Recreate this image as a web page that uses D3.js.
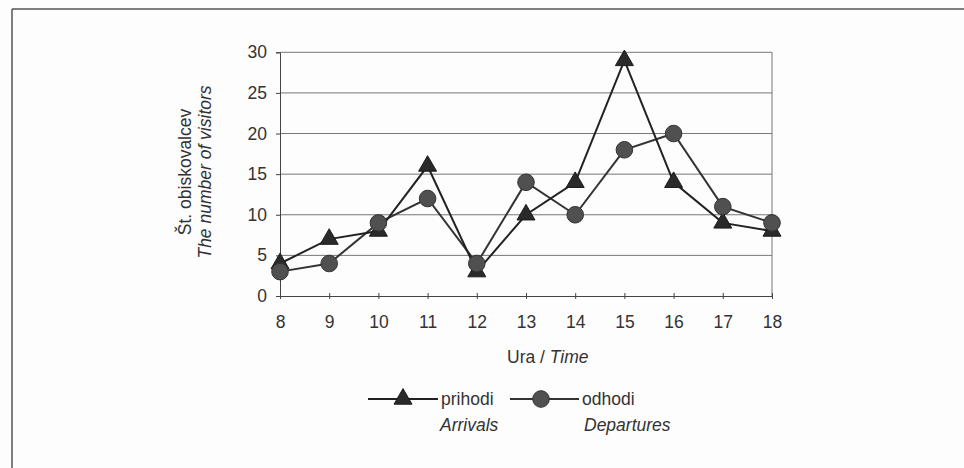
<!DOCTYPE html>
<html><head><meta charset="utf-8">
<script src="https://cdn.jsdelivr.net/npm/d3@7"></script>
<style>
html,body{margin:0;padding:0;background:#fdfdfd;}
svg{display:block;font-family:Arial,"Liberation Sans",sans-serif;}
</style></head>
<body>
<script>
const hours = [8, 9, 10, 11, 12, 13, 14, 15, 16, 17, 18];
const arrivals = [4, 7, 8, 16, 3, 10, 14, 29, 14, 9, 8];
const departures = [3, 4, 9, 12, 4, 14, 10, 18, 20, 11, 9];
const yTicks = [0, 5, 10, 15, 20, 25, 30];

const W = 964, H = 468, FS = 17.5;
const svg = d3.select("body").append("svg").attr("width", W).attr("height", H);
svg.append("rect").attr("width", W).attr("height", H).attr("fill", "#fdfdfd");

// outer frame (top and left only visible)
svg.append("line").attr("x1", 12).attr("x2", W).attr("y1", 9).attr("y2", 9).attr("stroke", "#555").attr("stroke-width", 1.5);
svg.append("line").attr("x1", 12).attr("x2", 12).attr("y1", 9).attr("y2", H).attr("stroke", "#555").attr("stroke-width", 1.5);

const x = d3.scalePoint().domain(hours).range([280, 772]);
const y = d3.scaleLinear().domain([0, 30]).range([296, 52.3]);

// gridlines
svg.append("g").selectAll("line").data(yTicks.filter(d => d > 0)).join("line")
  .attr("x1", 280).attr("x2", 772).attr("y1", d => y(d)).attr("y2", d => y(d))
  .attr("stroke", "#777").attr("stroke-width", 1);
// right border of plot area
svg.append("line").attr("x1", 772).attr("x2", 772).attr("y1", y(30)).attr("y2", y(0)).attr("stroke", "#777");

// y axis
const yAxis = svg.append("g").attr("transform", "translate(280,0)")
  .call(d3.axisLeft(y).tickValues(yTicks).tickSize(4).tickPadding(9));
yAxis.select(".domain").attr("stroke", "#444");
yAxis.selectAll(".tick line").attr("stroke", "#444");
yAxis.selectAll("text").attr("font-size", FS).attr("fill", "#333").attr("font-family", "Arial, 'Liberation Sans', sans-serif");

// x axis
const xAxis = svg.append("g").attr("transform", `translate(0,${y(0)})`)
  .call(d3.axisBottom(x).tickSizeInner(4).tickSizeOuter(0).tickPadding(16));
xAxis.select(".domain").attr("stroke", "#444");
xAxis.selectAll(".tick line").attr("stroke", "#444").attr("y1", -3).attr("y2", 3);
xAxis.selectAll("text").attr("font-size", FS).attr("fill", "#333").attr("font-family", "Arial, 'Liberation Sans', sans-serif");

// axis titles
const yl = svg.append("text").attr("transform", "translate(191,172) rotate(-90)")
  .attr("text-anchor", "middle").attr("font-size", FS).attr("fill", "#333");
yl.append("tspan").attr("x", 0).attr("dy", 0).text("Št. obiskovalcev");
yl.append("tspan").attr("x", 0).attr("dy", 20).attr("font-style", "italic").text("The number of visitors");

const xl = svg.append("text").attr("x", 507).attr("y", 363).attr("text-anchor", "start")
  .attr("font-size", FS).attr("fill", "#333");
xl.append("tspan").text("Ura / ");
xl.append("tspan").attr("font-style", "italic").text("Time");

// lines
const line = d3.line().x((d, i) => x(hours[i])).y(d => y(d));
svg.append("path").datum(departures).attr("d", line).attr("fill", "none").attr("stroke", "#333").attr("stroke-width", 2);
svg.append("path").datum(arrivals).attr("d", line).attr("fill", "none").attr("stroke", "#222").attr("stroke-width", 2);

const tri = d3.symbol().type(d3.symbolTriangle).size(140);
// markers
svg.append("g").selectAll("path").data(arrivals).join("path")
  .attr("d", tri).attr("transform", (d, i) => `translate(${x(hours[i])},${y(d)})`)
  .attr("fill", "#2a2a2a").attr("stroke", "#1a1a1a").attr("stroke-width", 1);
svg.append("g").selectAll("circle").data(departures).join("circle")
  .attr("cx", (d, i) => x(hours[i])).attr("cy", d => y(d)).attr("r", 8.3)
  .attr("fill", "#505050").attr("stroke", "#333").attr("stroke-width", 1);

// legend
const lg = svg.append("g");
lg.append("line").attr("x1", 368).attr("x2", 438).attr("y1", 399).attr("y2", 399).attr("stroke", "#222").attr("stroke-width", 2);
lg.append("path").attr("d", tri).attr("transform", "translate(403,399)").attr("fill", "#2a2a2a").attr("stroke", "#1a1a1a");
lg.append("text").attr("x", 441).attr("y", 405).attr("font-size", FS).attr("fill", "#333").text("prihodi");
lg.append("text").attr("x", 440).attr("y", 431).attr("font-size", FS).attr("font-style", "italic").attr("fill", "#333").text("Arrivals");
lg.append("line").attr("x1", 510).attr("x2", 579).attr("y1", 399).attr("y2", 399).attr("stroke", "#333").attr("stroke-width", 2);
lg.append("circle").attr("cx", 541).attr("cy", 399).attr("r", 8.3).attr("fill", "#505050").attr("stroke", "#333");
lg.append("text").attr("x", 582).attr("y", 405).attr("font-size", FS).attr("fill", "#333").text("odhodi");
lg.append("text").attr("x", 584).attr("y", 431).attr("font-size", FS).attr("font-style", "italic").attr("fill", "#333").text("Departures");
</script>
</body></html>
